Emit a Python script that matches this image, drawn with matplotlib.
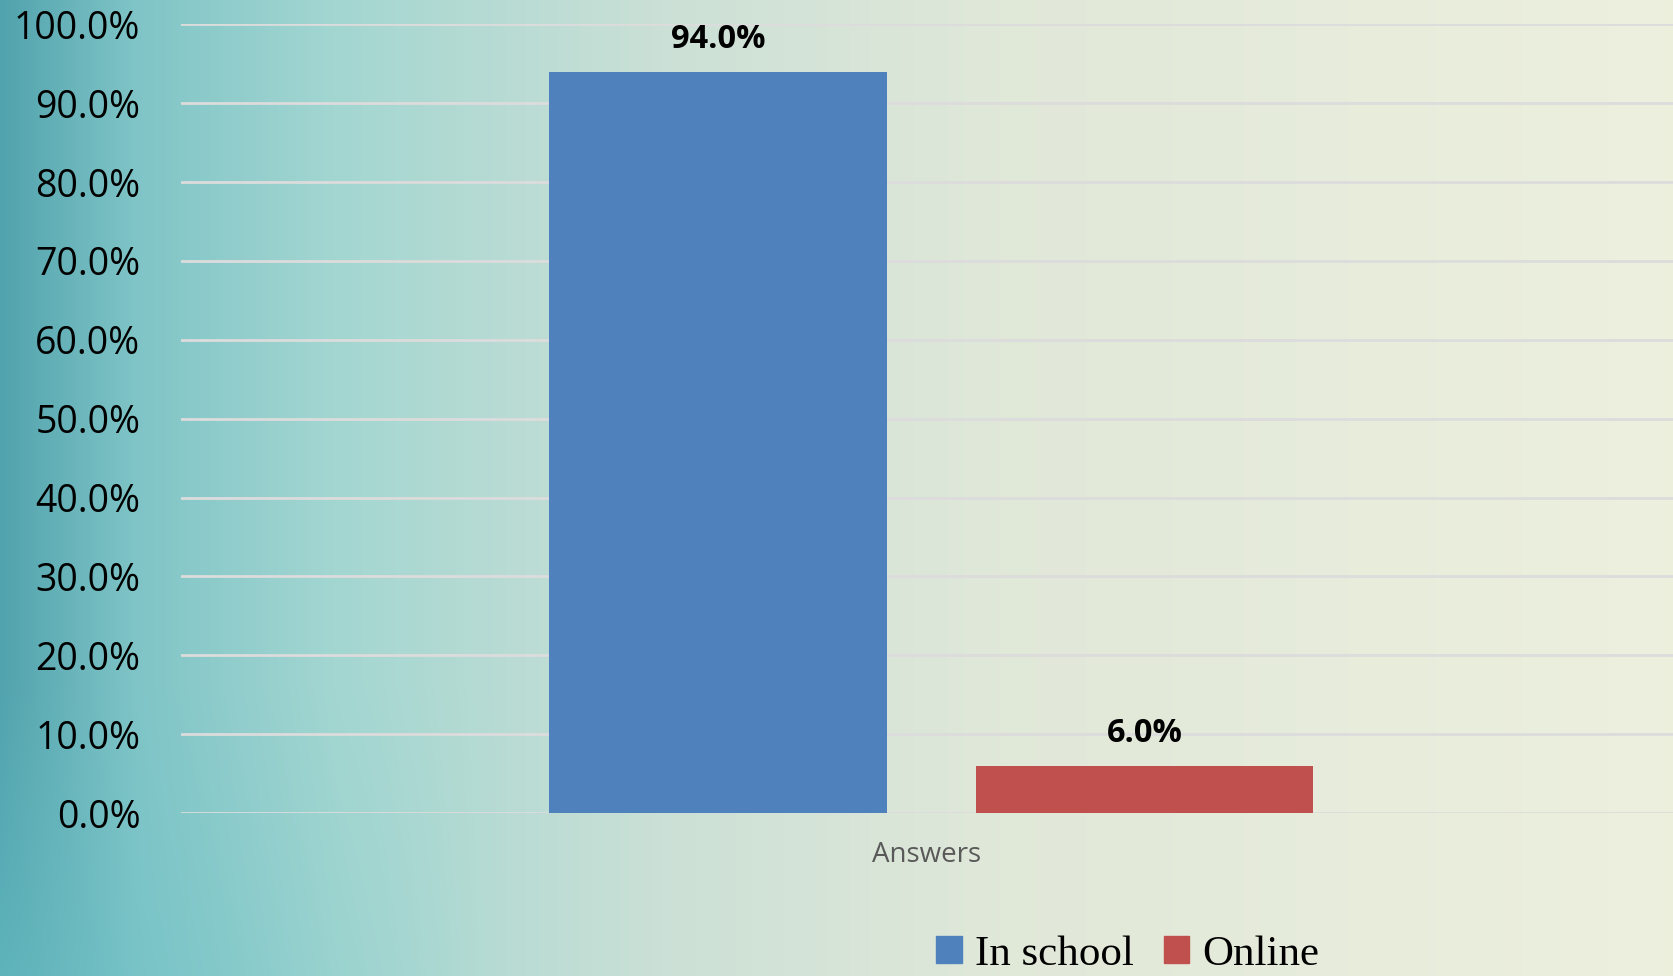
import numpy as np
import matplotlib.pyplot as plt
from matplotlib.patches import Patch
from matplotlib.ticker import PercentFormatter

# data
categories = ['Answers']
series = ['In school', 'Online']
values = [94.0, 6.0]
colors = ['#4f81bd', '#c0504d']
yticks = [0, 10, 20, 30, 40, 50, 60, 70, 80, 90, 100]

fig = plt.figure(figsize=(16.73, 9.76), dpi=100)

# background: teal on the left fading into cream on the right
bg = fig.add_axes([0, 0, 1, 1], zorder=-10)
h, w = 200, 340
xx = np.linspace(0, 1, w)[None, :].repeat(h, 0)
yy = np.linspace(0, 1, h)[:, None].repeat(w, 1)
stops = [0.0, 0.08, 0.2, 0.4, 0.6, 1.0]
stop_cols = np.array([[0.32, 0.64, 0.68],
                      [0.50, 0.77, 0.78],
                      [0.64, 0.84, 0.82],
                      [0.80, 0.88, 0.84],
                      [0.88, 0.91, 0.85],
                      [0.93, 0.94, 0.87]])
img = np.stack([np.interp(xx, stops, stop_cols[:, c]) for c in range(3)], axis=-1)
# a touch more saturated teal towards the bottom-left corner
teal = np.array([0.42, 0.76, 0.78])
shade = (np.clip(1 - xx / 0.3, 0, 1) * np.clip(1 - yy / 0.3, 0, 1))[..., None]
img = img * (1 - 0.5 * shade) + teal * 0.5 * shade
bg.imshow(img, aspect='auto', extent=[0, 1, 0, 1], origin='lower', interpolation='bilinear')
bg.axis('off')

ax = fig.add_axes([0.108, 0.167, 0.892, 0.808])
ax.set_facecolor('none')

offsets = [-0.140, 0.146]
width = 0.226
for name, val, col, off in zip(series, values, colors, offsets):
    ax.bar(off, val, width=width, color=col, zorder=3, label=name)
    ax.text(off, val + 2.0, f'{val:.1f}%', ha='center', va='bottom',
            fontsize=23.5, fontweight='bold', family='Open Sans')

ax.set_xlim(-0.5, 0.5)
ax.set_ylim(0, 100)
ax.set_yticks(yticks)
ax.yaxis.set_major_formatter(PercentFormatter(decimals=1))
ax.set_xticks([0])
ax.set_xticklabels(categories, fontsize=20, color='#595959', family='Open Sans')
ax.tick_params(axis='x', length=0, pad=20)
ax.tick_params(axis='y', length=0, pad=29, labelsize=27)
for lab in ax.get_yticklabels():
    lab.set_family('Open Sans')
ax.grid(axis='y', color='#dcdcdc', linewidth=2, zorder=0)
for s in ax.spines.values():
    s.set_visible(False)

handles = [Patch(color=c, label=n) for n, c in zip(series, colors)]
fig.legend(handles=handles, loc='center', bbox_to_anchor=(0.674, 0.022),
           ncol=2, frameon=False, prop={'family': 'Liberation Serif', 'size': 31},
           handlelength=0.6, handleheight=0.6, handletextpad=0.3, columnspacing=0.7)

fig.savefig('out.png', dpi=100)
